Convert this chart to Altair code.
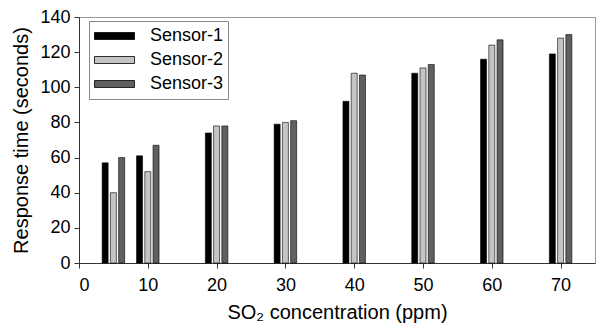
import altair as alt
import pandas as pd

conc = [5, 10, 20, 30, 40, 50, 60, 70]
sensor1 = [57, 61, 74, 79, 92, 108, 116, 119]
sensor2 = [40, 52, 78, 80, 108, 111, 124, 128]
sensor3 = [60, 67, 78, 81, 107, 113, 127, 130]
sensors = ["Sensor-1", "Sensor-2", "Sensor-3"]
colors = ["#000000", "#c4c4c4", "#606060"]
x_ticks = [0, 10, 20, 30, 40, 50, 60, 70]
y_ticks = [0, 20, 40, 60, 80, 100, 120, 140]

rows = []
for i, (name, vals) in enumerate(zip(sensors, [sensor1, sensor2, sensor3])):
    for c, v in zip(conc, vals):
        rows.append({"conc": c, "sensor": name, "idx": i, "value": v})
df = pd.DataFrame(rows)

FONT = "Liberation Sans"

chart = alt.Chart(df).transform_calculate(
    xpos="datum.conc + (datum.idx - 1) * 1.2"
).mark_bar(size=6, stroke="black", strokeWidth=0.6).encode(
    x=alt.X("xpos:Q",
            scale=alt.Scale(domain=[0, 75], nice=False, zero=False, padding=0),
            axis=alt.Axis(values=x_ticks, title="SO₂ concentration (ppm)", grid=False,
                          labelFontSize=18, titleFontSize=20, labelFont=FONT, titleFont=FONT,
                          titleFontWeight="normal", labelColor="black", titleColor="black",
                          tickSize=5, labelPadding=8, titlePadding=8, domainColor="#333",
                          tickColor="#333")),
    y=alt.Y("value:Q",
            scale=alt.Scale(domain=[0, 140], nice=False, padding=0),
            axis=alt.Axis(values=y_ticks, title="Response time (seconds)", grid=False,
                          labelFontSize=18, titleFontSize=20, labelFont=FONT, titleFont=FONT,
                          titleFontWeight="normal", labelColor="black", titleColor="black",
                          tickSize=5, labelPadding=4, titlePadding=8, domainColor="#333",
                          tickColor="#333")),
    color=alt.Color("sensor:N",
                    scale=alt.Scale(domain=sensors, range=colors),
                    legend=alt.Legend(orient="none", legendX=10, legendY=4, title=None,
                                      symbolType="M-1,-0.175L1,-0.175L1,0.175L-1,0.175Z",
                                      symbolSize=1600, symbolStrokeColor="black",
                                      symbolStrokeWidth=0.8, labelFontSize=18, labelFont=FONT,
                                      labelColor="black", clipHeight=22, padding=4,
                                      fillColor="white", strokeColor="#888",
                                      labelOffset=15, symbolOffset=1))
).properties(
    width=516, height=246, autosize="none",
    padding={"left": 71, "top": 9, "right": 1, "bottom": 60}
).configure_view(stroke="#999", strokeWidth=1)

chart.save("out.html", embed_options={"renderer": "svg", "actions": False})
